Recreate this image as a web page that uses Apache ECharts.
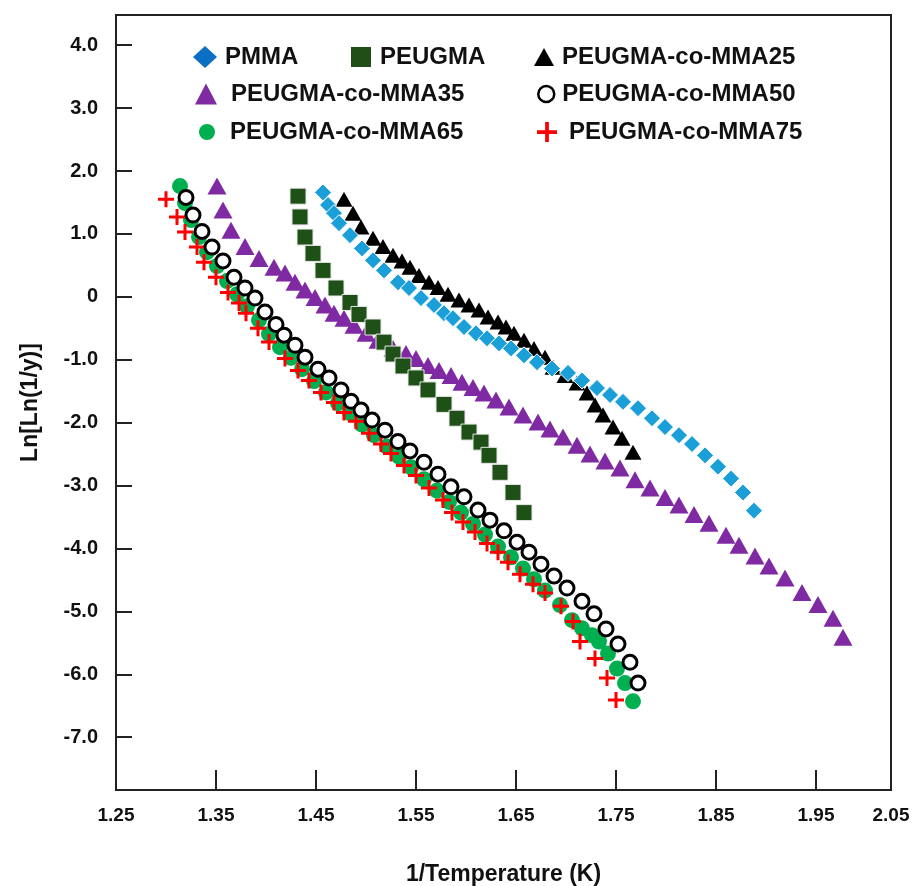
<!DOCTYPE html>
<html>
<head>
<meta charset="utf-8">
<script src="https://cdn.jsdelivr.net/npm/echarts@6/dist/echarts.min.js"></script>
<style>
html,body{margin:0;padding:0;background:#fff;}
#chart{width:922px;height:886px;}
</style>
</head>
<body>
<div id="chart"></div>
<script>
// 1/T , Ln[Ln(1/y)]
var pmma = [[1.457,1.66],[1.462,1.46],[1.468,1.33],[1.473,1.17],[1.484,0.98],[1.496,0.77],[1.507,0.58],[1.518,0.42],[1.532,0.23],[1.543,0.14],[1.555,-0.02],[1.568,-0.13],[1.578,-0.26],[1.587,-0.34],[1.598,-0.48],[1.610,-0.58],[1.621,-0.66],[1.633,-0.74],[1.645,-0.82],[1.658,-0.93],[1.671,-1.04],[1.686,-1.14],[1.702,-1.21],[1.716,-1.33],[1.731,-1.45],[1.744,-1.56],[1.757,-1.67],[1.772,-1.77],[1.786,-1.93],[1.799,-2.07],[1.813,-2.20],[1.826,-2.34],[1.839,-2.52],[1.852,-2.70],[1.865,-2.89],[1.877,-3.11],[1.888,-3.40]];
var peugma = [[1.432,1.60],[1.434,1.27],[1.439,0.95],[1.447,0.69],[1.457,0.42],[1.470,0.14],[1.484,-0.09],[1.493,-0.28],[1.507,-0.48],[1.518,-0.72],[1.527,-0.91],[1.537,-1.10],[1.550,-1.29],[1.562,-1.48],[1.578,-1.71],[1.591,-1.93],[1.603,-2.15],[1.615,-2.31],[1.623,-2.52],[1.634,-2.79],[1.647,-3.11],[1.658,-3.43]];
var mma25 = [[1.478,1.55],[1.487,1.33],[1.495,1.11],[1.507,0.93],[1.517,0.80],[1.527,0.66],[1.536,0.57],[1.544,0.47],[1.553,0.34],[1.563,0.23],[1.572,0.15],[1.582,0.04],[1.593,-0.05],[1.603,-0.13],[1.613,-0.21],[1.622,-0.32],[1.632,-0.40],[1.640,-0.48],[1.648,-0.58],[1.658,-0.69],[1.668,-0.82],[1.679,-0.96],[1.687,-1.12],[1.699,-1.25],[1.711,-1.37],[1.721,-1.53],[1.729,-1.72],[1.737,-1.88],[1.747,-2.07],[1.756,-2.25],[1.767,-2.47]];
var mma35 = [[1.351,1.76],[1.357,1.38],[1.365,1.06],[1.379,0.80],[1.393,0.61],[1.408,0.47],[1.419,0.38],[1.429,0.23],[1.439,0.11],[1.449,-0.01],[1.459,-0.13],[1.468,-0.26],[1.478,-0.34],[1.488,-0.45],[1.500,-0.58],[1.512,-0.69],[1.527,-0.82],[1.540,-0.90],[1.550,-0.98],[1.562,-1.09],[1.573,-1.17],[1.585,-1.25],[1.596,-1.36],[1.607,-1.44],[1.618,-1.53],[1.630,-1.64],[1.643,-1.75],[1.657,-1.88],[1.672,-1.99],[1.684,-2.10],[1.697,-2.23],[1.711,-2.36],[1.724,-2.50],[1.739,-2.61],[1.754,-2.72],[1.769,-2.91],[1.784,-3.04],[1.799,-3.19],[1.813,-3.31],[1.828,-3.46],[1.843,-3.60],[1.860,-3.79],[1.873,-3.95],[1.889,-4.12],[1.903,-4.28],[1.919,-4.47],[1.936,-4.70],[1.952,-4.89],[1.967,-5.11],[1.977,-5.41]];
var mma50 = [[1.320,1.58],[1.327,1.30],[1.336,1.04],[1.346,0.79],[1.357,0.57],[1.368,0.31],[1.379,0.14],[1.389,-0.02],[1.399,-0.24],[1.410,-0.44],[1.418,-0.61],[1.429,-0.77],[1.439,-0.96],[1.452,-1.15],[1.463,-1.29],[1.475,-1.48],[1.485,-1.66],[1.495,-1.80],[1.506,-1.96],[1.519,-2.12],[1.532,-2.30],[1.544,-2.45],[1.558,-2.63],[1.572,-2.82],[1.585,-3.02],[1.598,-3.18],[1.612,-3.39],[1.624,-3.55],[1.638,-3.72],[1.651,-3.90],[1.663,-4.06],[1.675,-4.25],[1.688,-4.44],[1.701,-4.63],[1.716,-4.84],[1.728,-5.04],[1.740,-5.28],[1.752,-5.52],[1.764,-5.81],[1.772,-6.14]];
var mma65 = [[1.314,1.76],[1.319,1.49],[1.325,1.22],[1.333,0.95],[1.341,0.71],[1.351,0.49],[1.361,0.25],[1.371,0.04],[1.381,-0.15],[1.393,-0.37],[1.403,-0.59],[1.414,-0.80],[1.425,-0.97],[1.436,-1.15],[1.448,-1.34],[1.460,-1.52],[1.472,-1.69],[1.484,-1.85],[1.496,-2.03],[1.508,-2.20],[1.521,-2.38],[1.533,-2.54],[1.545,-2.71],[1.558,-2.90],[1.571,-3.08],[1.583,-3.26],[1.595,-3.43],[1.607,-3.61],[1.619,-3.78],[1.632,-3.97],[1.645,-4.14],[1.657,-4.32],[1.668,-4.49],[1.679,-4.67],[1.694,-4.90],[1.706,-5.14],[1.716,-5.27],[1.726,-5.38],[1.733,-5.48],[1.742,-5.67],[1.751,-5.91],[1.759,-6.14],[1.767,-6.43]];
var mma75 = [[1.300,1.55],[1.311,1.27],[1.319,1.03],[1.331,0.79],[1.338,0.55],[1.350,0.31],[1.362,0.07],[1.373,-0.10],[1.380,-0.26],[1.392,-0.50],[1.403,-0.72],[1.419,-0.98],[1.432,-1.17],[1.443,-1.33],[1.455,-1.52],[1.468,-1.68],[1.478,-1.84],[1.490,-1.98],[1.503,-2.17],[1.515,-2.34],[1.525,-2.49],[1.538,-2.68],[1.550,-2.84],[1.563,-3.04],[1.577,-3.23],[1.586,-3.43],[1.597,-3.58],[1.609,-3.74],[1.621,-3.92],[1.632,-4.06],[1.642,-4.22],[1.654,-4.41],[1.667,-4.57],[1.679,-4.71],[1.695,-4.92],[1.707,-5.16],[1.714,-5.48],[1.729,-5.75],[1.741,-6.06],[1.750,-6.41]];

var seriesNames = ['PMMA','PEUGMA','PEUGMA-co-MMA25','PEUGMA-co-MMA35','PEUGMA-co-MMA50','PEUGMA-co-MMA65','PEUGMA-co-MMA75'];

var xTicks = [1.35,1.45,1.55,1.65,1.75,1.85,1.95];
var xLabelPos = [1.25,1.35,1.45,1.55,1.65,1.75,1.85,1.95,2.025];
var xLabels = ['1.25','1.35','1.45','1.55','1.65','1.75','1.85','1.95','2.05'];
var yTicks = [-7,-6,-5,-4,-3,-2,-1,0,1,2,3,4];

var FONT = '"Liberation Sans", Arial, sans-serif';
var plusPath = 'path://M6.5,0H9.5V6.5H16V9.5H9.5V16H6.5V9.5H0V6.5H6.5Z';

var myChart = echarts.init(document.getElementById('chart'));

// legend placement: [left, top, itemWidth, itemHeight, text padding, itemStyle]
var legendLayout = [
	[188, 38, 24, 22, 3, {color:'#0b6fc4', borderWidth:0, opacity:1}],
	[346, 38, 20, 20, 4, {color:'#1f4f17', borderWidth:0, opacity:1}],
	[529, 38, 20, 18, 3, {color:'#000', borderWidth:0, opacity:1}],
	[190, 75, 22, 21, 9, {color:'#7f2aa3', borderWidth:0, opacity:1}],
	[532, 75, 16, 16, 3, {color:'#fff', borderColor:'#000', borderWidth:2.5, opacity:1}],
	[194, 113, 16, 16, 10, {color:'#00b050', borderWidth:0, opacity:1}],
	[532, 113, 20, 20, 7, {color:'#ff0000', borderWidth:0, opacity:1}]
];
var legends = [];
for (var i = 0; i < seriesNames.length; i++) {
	var L = legendLayout[i];
	legends.push({
		data: [seriesNames[i]],
		left: L[0],
		top: L[1],
		itemWidth: L[2],
		itemHeight: L[3],
		itemStyle: L[5],
		textStyle: {
			fontFamily: FONT,
			fontSize: 24,
			fontWeight: 'bold',
			color: '#111',
			lineHeight: 28,
			padding: [0, 0, 0, L[4]]
		}
	});
}

option = {
	backgroundColor: '#fff',
	animation: false,
	legend: legends,
	grid: {
		left: 116,
		right: 31,
		top: 15,
		bottom: 96,
		show: true,
		borderColor: '#222',
		borderWidth: 2,
		outerBoundsMode: 'none'
	},
	xAxis: {
		type: 'value',
		min: 1.25,
		max: 2.025,
		name: '1/Temperature (K)',
		nameLocation: 'middle',
		nameGap: 73,
		nameTextStyle: {
			fontFamily: FONT,
			fontSize: 23,
			fontWeight: 'bold',
			color: '#111'
		},
		splitLine: {show: false},
		axisLine: {show: true, onZero: false, lineStyle: {color: '#222', width: 2}},
		axisTick: {
			show: true,
			inside: true,
			length: 20,
			customValues: xTicks,
			lineStyle: {color: '#222', width: 2}
		},
		axisLabel: {
			customValues: xLabelPos,
			margin: 16,
			fontFamily: FONT,
			fontSize: 19,
			fontWeight: 'bold',
			color: '#111',
			formatter: function (v) {
				for (var k = 0; k < xLabelPos.length; k++) {
					if (Math.abs(xLabelPos[k] - v) < 1e-6) return xLabels[k];
				}
				return '';
			}
		}
	},
	yAxis: {
		type: 'value',
		min: -7.84,
		max: 4.48,
		name: 'Ln[Ln(1/y)]',
		nameLocation: 'middle',
		nameGap: 74,
		nameTextStyle: {
			fontFamily: FONT,
			fontSize: 23,
			fontWeight: 'bold',
			color: '#111'
		},
		splitLine: {show: false},
		axisLine: {show: true, onZero: false, lineStyle: {color: '#222', width: 2}},
		axisTick: {
			show: true,
			inside: true,
			length: 16,
			customValues: yTicks,
			lineStyle: {color: '#222', width: 2}
		},
		axisLabel: {
			customValues: yTicks,
			margin: 18,
			fontFamily: FONT,
			fontSize: 20,
			fontWeight: 'bold',
			color: '#111',
			formatter: function (v) {
				return v === 0 ? '0' : v.toFixed(1);
			}
		}
	},
	series: [{
		name: seriesNames[0],
		type: 'scatter',
		z: 4,
		symbol: 'diamond',
		symbolSize: 17,
		itemStyle: {color: '#1a9fd8', borderColor: '#fff', borderWidth: 1, opacity: 1},
		data: pmma
	}, {
		name: seriesNames[1],
		type: 'scatter',
		z: 3,
		symbol: 'rect',
		symbolSize: 16,
		itemStyle: {color: '#1f5018', borderColor: '#e8e8e8', borderWidth: 1, opacity: 1},
		data: peugma
	}, {
		name: seriesNames[2],
		type: 'scatter',
		z: 3,
		symbol: 'triangle',
		symbolSize: [17, 15],
		itemStyle: {color: '#000', opacity: 1},
		data: mma25
	}, {
		name: seriesNames[3],
		type: 'scatter',
		z: 2,
		symbol: 'triangle',
		symbolSize: [19, 17],
		itemStyle: {color: '#7f2aa3', opacity: 1},
		data: mma35
	}, {
		name: seriesNames[4],
		type: 'scatter',
		z: 5,
		symbol: 'circle',
		symbolSize: 14,
		itemStyle: {color: '#fff', borderColor: '#000', borderWidth: 3, opacity: 1},
		data: mma50
	}, {
		name: seriesNames[5],
		type: 'scatter',
		z: 2,
		symbol: 'circle',
		symbolSize: 16,
		itemStyle: {color: '#00b050', opacity: 1},
		data: mma65
	}, {
		name: seriesNames[6],
		type: 'scatter',
		z: 4,
		symbol: plusPath,
		symbolSize: 16,
		itemStyle: {color: '#ff0000', opacity: 1},
		data: mma75
	}]
};
myChart.setOption(option);
</script>
</body>
</html>
